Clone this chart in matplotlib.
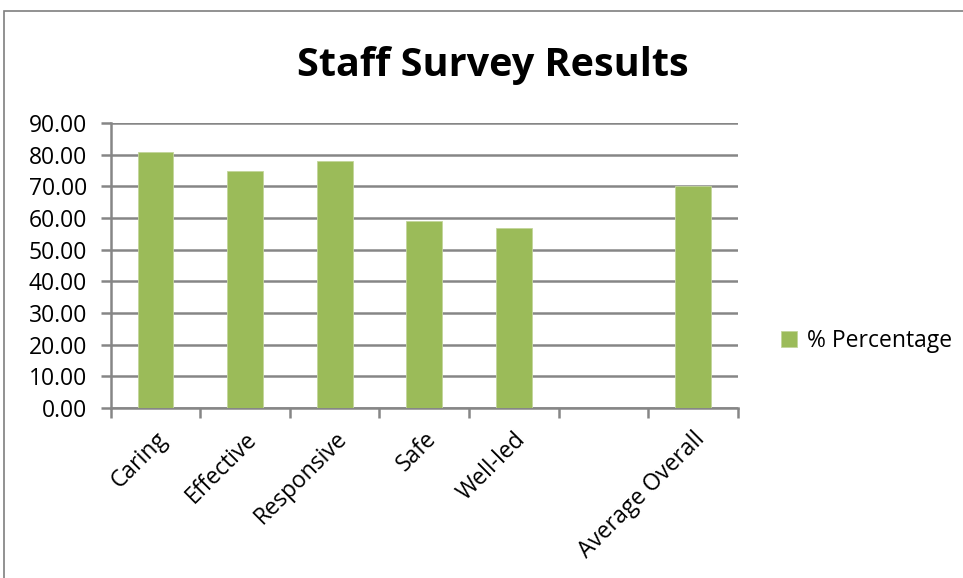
import numpy as np
import matplotlib.pyplot as plt
import matplotlib.patches as patches

categories = ['Caring', 'Effective', 'Responsive', 'Safe', 'Well-led', '', 'Average Overall']
percentage = [81, 75, 78, 59, 57, np.nan, 70]
y_ticks = [0, 10, 20, 30, 40, 50, 60, 70, 80, 90]

plt.rcParams['font.family'] = ['Open Sans', 'DejaVu Sans']

bar_color = '#9BBB59'
grid_color = '#868686'

fig = plt.figure(figsize=(9.63, 5.78), dpi=100)
ax = fig.add_axes([0.115, 0.2946, 0.651, 0.4921])

x = np.arange(len(categories))
ax.bar(x, percentage, width=0.4, color=bar_color, edgecolor='#C3D69B', linewidth=0.6,
       label='% Percentage', zorder=3)

ax.set_xlim(-0.5, len(categories) - 0.5)
ax.set_ylim(0, 90)
ax.set_yticks(y_ticks)
ax.set_yticklabels([f'{v:.2f}' for v in y_ticks], fontsize=16.5)
ax.yaxis.grid(True, color=grid_color, linewidth=1.8, zorder=0)

ax.set_xticks(x)
ax.set_xticklabels(categories, rotation=45, ha='right', rotation_mode='anchor', fontsize=16.5)
ax.set_xticks(np.arange(len(categories) + 1) - 0.5, minor=True)
ax.tick_params(axis='x', which='major', length=0, pad=14)
ax.tick_params(axis='x', which='minor', length=7, width=1.8, color=grid_color)
ax.tick_params(axis='y', length=7, width=1.8, color=grid_color, pad=10)

for side in ['top', 'right']:
    ax.spines[side].set_visible(False)
for side in ['left', 'bottom']:
    ax.spines[side].set_color(grid_color)
    ax.spines[side].set_linewidth(1.8)

fig.text(0.512, 0.887, 'Staff Survey Results', ha='center', va='center',
         fontsize=28.5, fontweight='bold')

fig.legend(loc='center left', bbox_to_anchor=(0.79, 0.41), frameon=False,
           fontsize=16.5, handlelength=0.7, handleheight=0.7, handletextpad=0.4)

# chart border (cropped at right and bottom)
border = patches.Rectangle((0.0045, -0.05), 1.2, 1.031, transform=fig.transFigure,
                           fill=False, edgecolor='#7F7F7F', linewidth=1.2)
fig.add_artist(border)

plt.savefig('out.png', dpi=100)
